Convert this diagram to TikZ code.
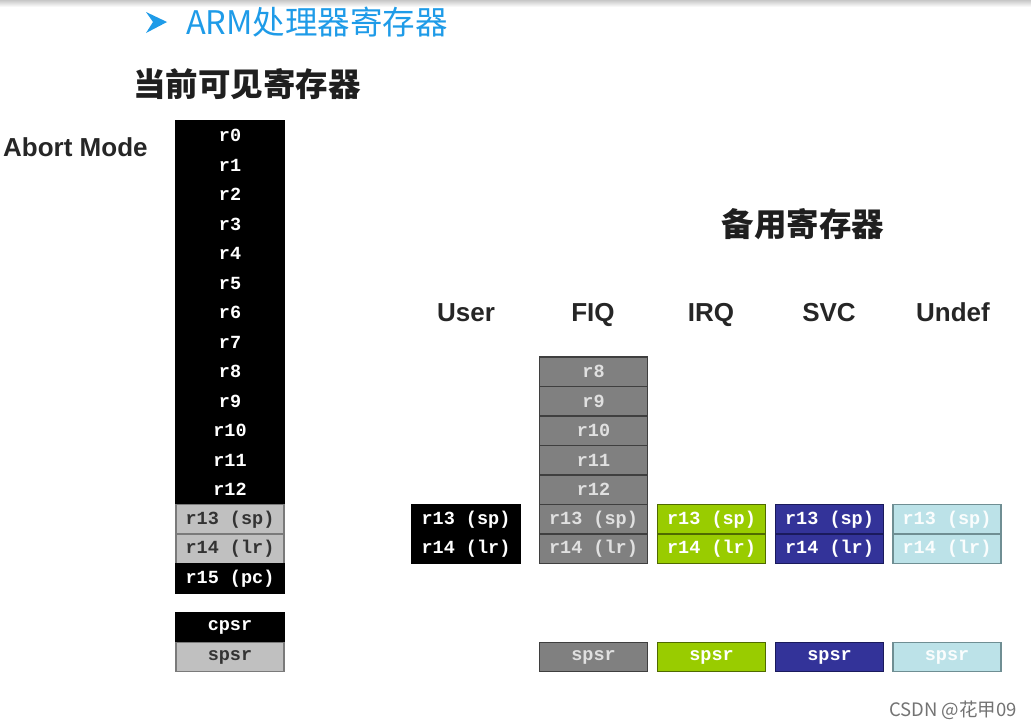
\documentclass[tikz,border=0pt]{standalone}
\usepackage{fontspec}
\newfontfamily\cjk{Noto Sans CJK SC}
\newfontfamily\monof{Liberation Mono}
\newfontfamily\arialf{Liberation Sans}
\definecolor{titleblue}{HTML}{1E9BE8}
\definecolor{cellgray}{HTML}{808080}
\definecolor{cellgrayline}{HTML}{3F3F3F}
\definecolor{celllight}{HTML}{C0C0C0}
\definecolor{celllightline}{HTML}{7A7A7A}
\definecolor{cellgreen}{HTML}{99CC00}
\definecolor{cellgreenline}{HTML}{4F6A00}
\definecolor{cellblue}{HTML}{333399}
\definecolor{cellblueline}{HTML}{1A1A5C}
\definecolor{cellcyan}{HTML}{BCE2E8}
\definecolor{cellcyanline}{HTML}{6F8E93}
\tikzset{
  x=1pt, y=-1pt,
  cell/.style={rectangle, draw, line width=1.2pt, minimum width=108pt, minimum height=29.5pt,
    inner sep=0pt, outer sep=0pt, font=\monof\bfseries\fontsize{18.5}{18.5}\selectfont},
  blackcell/.style={cell, fill=black, draw=black, text=white},
  lightcell/.style={cell, fill=celllight, draw=celllightline, text=black!80},
  graycell/.style={cell, fill=cellgray, draw=cellgrayline, text=white!88!black},
  greencell/.style={cell, fill=cellgreen, draw=cellgreenline, text=white},
  bluecell/.style={cell, fill=cellblue, draw=cellblueline, text=white},
  cyancell/.style={cell, fill=cellcyan, draw=cellcyanline, text=white!92!cellcyan},
  modelabel/.style={font=\arialf\bfseries\fontsize{26}{26}\selectfont, text=black!85, inner sep=0pt, anchor=base},
  cjktitle/.style={font=\cjk\bfseries\fontsize{32.5}{32.5}\selectfont, text=black!88, inner sep=0pt},
}
\begin{document}
\begin{tikzpicture}
\useasboundingbox (0,0) rectangle (1031,728);
\fill[white] (0,0) rectangle (1031,728);
\shade[top color=black!22, bottom color=white] (0,0) rectangle (1031,7);
% title
\fill[titleblue] (146,12) -- (167,22) -- (146,33) -- (153,22) -- cycle;
\node[anchor=west, inner sep=0pt, text=titleblue, font=\cjk\fontsize{32.5}{32.5}\selectfont] (title) at (186,22) {ARM处理器寄存器};
\node[cjktitle, anchor=west] (visible) at (133,84) {当前可见寄存器};
\node[cjktitle] (banked) at (803,224) {备用寄存器};
\node[modelabel, anchor=base west] (abort) at (3,156) {Abort Mode};
% headers
\node[modelabel] (huser) at (466,321) {User};
\node[modelabel] (hfiq) at (593,321) {FIQ};
\node[modelabel] (hirq) at (711,321) {IRQ};
\node[modelabel] (hsvc) at (829,321) {SVC};
\node[modelabel] (hund) at (953,321) {Undef};
% main column
\foreach \i in {0,...,12} {
  \node[blackcell] (m\i) at (230, {121+29.5*\i+14.75}) {r\i};
}
\node[lightcell] (m13) at (230, {121+29.5*13+14.75}) {r13 (sp)};
\node[lightcell] (m14) at (230, {121+29.5*14+14.75}) {r14 (lr)};
\node[blackcell] (m15) at (230, {121+29.5*15+14.75}) {r15 (pc)};
\node[blackcell] (cpsr) at (230, 627.5) {cpsr};
\node[lightcell] (spsr) at (230, 657) {spsr};
% user
\node[blackcell] (u13) at (466, {121+29.5*13+14.75}) {r13 (sp)};
\node[blackcell] (u14) at (466, {121+29.5*14+14.75}) {r14 (lr)};
% fiq
\foreach \i in {8,...,12} {
  \node[graycell] (f\i) at (593.5, {121+29.5*\i+14.75}) {r\i};
}
\node[graycell] (f13) at (593.5, {121+29.5*13+14.75}) {r13 (sp)};
\node[graycell] (f14) at (593.5, {121+29.5*14+14.75}) {r14 (lr)};
\node[graycell] (fspsr) at (593.5, 657) {spsr};
% irq
\node[greencell] (i13) at (711.5, {121+29.5*13+14.75}) {r13 (sp)};
\node[greencell] (i14) at (711.5, {121+29.5*14+14.75}) {r14 (lr)};
\node[greencell] (ispsr) at (711.5, 657) {spsr};
% svc
\node[bluecell] (s13) at (829.5, {121+29.5*13+14.75}) {r13 (sp)};
\node[bluecell] (s14) at (829.5, {121+29.5*14+14.75}) {r14 (lr)};
\node[bluecell] (sspsr) at (829.5, 657) {spsr};
% undef
\node[cyancell] (d13) at (947, {121+29.5*13+14.75}) {r13 (sp)};
\node[cyancell] (d14) at (947, {121+29.5*14+14.75}) {r14 (lr)};
\node[cyancell] (dspsr) at (947, 657) {spsr};
% watermark
\node[anchor=east, inner sep=0pt, text=black!55, font=\cjk\fontsize{18.5}{18.5}\selectfont] (mark) at (1017,710) {CSDN @花甲09};
\end{tikzpicture}
\end{document}
